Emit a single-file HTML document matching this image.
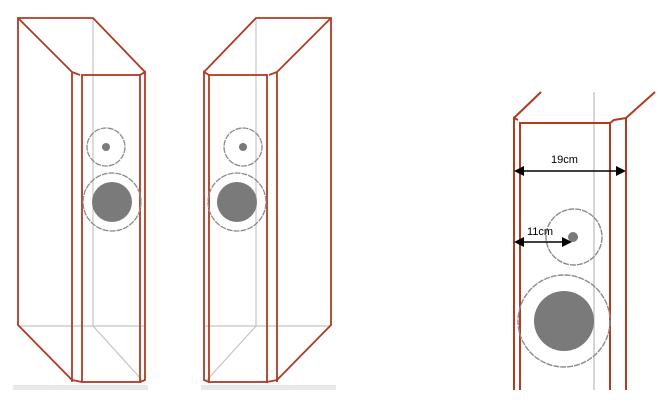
<!DOCTYPE html>
<html><head><style>html,body{margin:0;padding:0;background:#fff;width:666px;height:402px;overflow:hidden}</style></head>
<body>
<svg width="666" height="402" viewBox="0 0 666 402" xmlns="http://www.w3.org/2000/svg">
<defs>
<g id="spk">
  <rect x="13" y="385" width="135" height="5" fill="#e8e8e8"/>
  <g stroke="#c4c4c4" stroke-width="1.2" fill="none">
    <line x1="93" y1="18" x2="93" y2="326"/>
    <line x1="18" y1="326" x2="145" y2="326"/>
    <line x1="93" y1="326" x2="142" y2="380"/>
  </g>
  <g stroke="#b03a22" stroke-width="1.8" fill="none">
    <polyline points="72,380 18,325 18,18 93,18 145,72"/>
    <line x1="18" y1="18" x2="72" y2="72"/>
    <polyline points="72,382 72,72 80,75"/>
    <rect x="82" y="75" width="58" height="307"/>
    <polyline points="140,75 145,72 145,380 140,382"/>
    <line x1="72" y1="380" x2="82" y2="382"/>
  </g>
  <g stroke="#8c8c8c" stroke-width="1.3" fill="none" stroke-dasharray="6,1">
    <circle cx="106" cy="147" r="19"/>
    <circle cx="112" cy="202" r="29"/>
  </g>
  <circle cx="106" cy="147" r="4" fill="#7a7a7a"/>
  <circle cx="112" cy="202" r="20" fill="#7a7a7a"/>
</g>
</defs>
<use href="#spk"/>
<use href="#spk" transform="translate(349,0) scale(-1,1)"/>
<g stroke="#c4c4c4" stroke-width="1.4"><line x1="594" y1="92" x2="594" y2="390"/></g>
<g stroke="#b03a22" stroke-width="2" fill="none">
  <line x1="514" y1="118" x2="541" y2="92"/>
  <line x1="626" y1="118" x2="655" y2="92"/>
  <polyline points="514,390 514,118 518,120"/>
  <polyline points="520,390 520,123 610,123 610,390"/>
  <polyline points="610,123 614,120 626,118 626,390"/>
</g>
<g stroke="#8c8c8c" stroke-width="1.4" fill="none" stroke-dasharray="6,1">
  <circle cx="574" cy="237" r="28"/>
  <circle cx="564" cy="321" r="46"/>
</g>
<circle cx="573" cy="237" r="5" fill="#7a7a7a"/>
<circle cx="564" cy="321" r="30" fill="#7a7a7a"/>
<g stroke="#000" stroke-width="1.4">
  <line x1="520" y1="171" x2="620" y2="171"/>
  <line x1="520" y1="242" x2="566" y2="242"/>
</g>
<g fill="#000">
  <polygon points="514,171 524,166 524,176"/>
  <polygon points="626,171 616,166 616,176"/>
  <polygon points="514,242 524,237 524,247"/>
  <polygon points="572,242 562,237 562,247"/>
</g>
<g font-family="Liberation Sans, sans-serif" font-size="11" fill="#000">
  <text x="551" y="163">19cm</text>
  <text x="527" y="235">11cm</text>
</g>
</svg>
</body></html>
